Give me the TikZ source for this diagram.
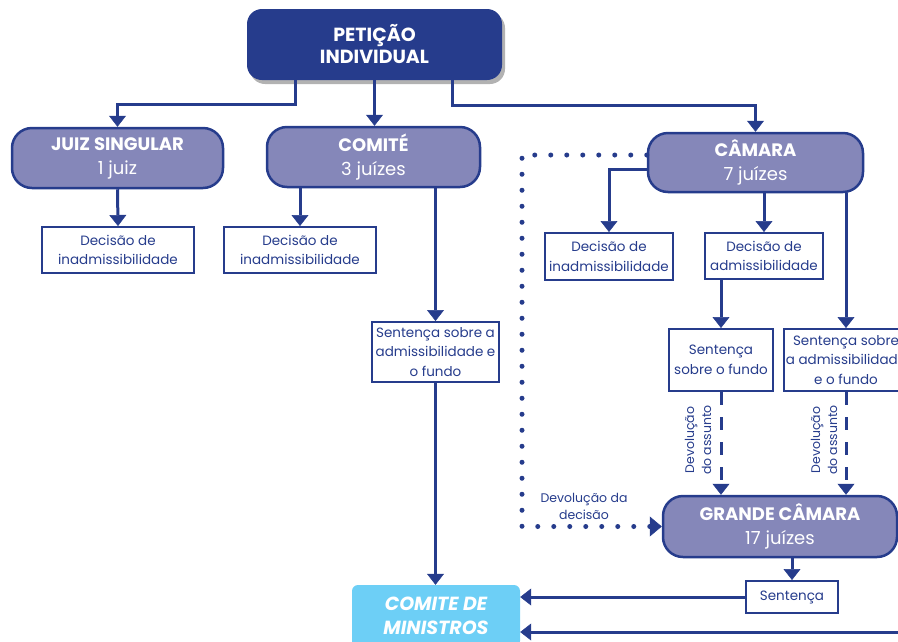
\documentclass[tikz,border=0pt]{standalone}
\usepackage{fontspec}
\setmainfont{Poppins}
\usepackage{xcolor}
\usepackage{tikz}
\usetikzlibrary{
    arrows.meta,
    shadows % For the shadow under the petition box
}
\definecolor{echrblue}{RGB}{38,60,140}
\definecolor{echrlilac}{RGB}{133,135,185}
\definecolor{echrcyan}{RGB}{109,207,246}
\tikzset{
    petbox/.style={%
        rounded corners=15pt, fill=echrblue, text=white, align=center,
        inner sep=0pt, font=\fontsize{19}{22}\selectfont\bfseries,
        drop shadow={shadow xshift=3pt, shadow yshift=-4pt, opacity=0.3, fill=black}
    },
    chamberbox/.style={%
        rounded corners=20pt, draw=echrblue, line width=2.5pt, fill=echrlilac,
        text=white, align=center, inner sep=0pt, font=\fontsize{18}{24}\selectfont
    },
    decbox/.style={%
        draw=echrblue, line width=2pt, fill=white, text=echrblue, align=center,
        inner sep=0pt, font=\fontsize{13.5}{19.5}\selectfont
    },
    ministersbox/.style={%
        rounded corners=6pt, fill=echrcyan, text=white, align=center,
        inner sep=0pt, font=\fontsize{19}{24}\selectfont\bfseries\itshape
    },
    devlabel/.style={%
        text=echrblue, align=center, inner sep=0pt, font=\fontsize{12.5}{17}\selectfont
    },
    arr/.style={%
        draw=echrblue, line width=3pt,
        -{Triangle[width=17pt, length=11pt, line width=0.5pt]}
    },
    dasharr/.style={arr, dash pattern=on 13pt off 12pt},
    dotarr/.style={%
        draw=echrblue, line width=5pt, line cap=round, dash pattern=on 0pt off 16pt,
        -{Triangle[width=20pt, length=12pt, line width=0.5pt]}
    }
}

\begin{document}
\begin{tikzpicture}[x=1pt, y=-1pt]
    \useasboundingbox (0,0) rectangle (898,641);

    % chambers
    \draw (374.5,44.5) node[petbox, minimum width=255pt, minimum height=71pt](pet){PETIÇÃO\\INDIVIDUAL};
    \draw (117.5,158) node[chamberbox, minimum width=211pt, minimum height=60pt](juiz){\textbf{JUIZ SINGULAR}\\1 juiz};
    \draw (373.5,157) node[chamberbox, minimum width=213pt, minimum height=60pt](comite){\textbf{COMITÉ}\\3 juízes};
    \draw (755.5,162.5) node[chamberbox, minimum width=215pt, minimum height=59pt](camara){\textbf{CÂMARA}\\7 juízes};
    \draw (780,526.5) node[chamberbox, minimum width=234pt, minimum height=61pt](grande){\textbf{GRANDE CÂMARA}\\17 juízes};
    \draw (436,616) node[ministersbox, minimum width=168pt, minimum height=62pt](cmin){COMITE DE\\MINISTROS};

    % decisions
    \draw (118,250) node[decbox, minimum width=152pt, minimum height=46pt](dec1){Decisão de\\inadmissibilidade};
    \draw (300,250) node[decbox, minimum width=152pt, minimum height=46pt](dec2){Decisão de\\inadmissibilidade};
    \draw (609,256.5) node[decbox, minimum width=128pt, minimum height=47pt](dec3){Decisão de\\inadmissibilidade};
    \draw (764,256) node[decbox, minimum width=118pt, minimum height=46pt](decadm){Decisão de\\admissibilidade};
    \draw (435.5,352) node[decbox, minimum width=127pt, minimum height=60pt](sentcom){Sentença sobre a\\admissibilidade e\\o fundo};
    \draw (721,360) node[decbox, minimum width=104pt, minimum height=62pt](sentfun){Sentença\\sobre o fundo};
    \draw (846,360) node[decbox, minimum width=124pt, minimum height=62pt](sentadm){Sentença sobre\\a admissibilidade\\e o fundo};
    \draw (792,597) node[decbox, minimum width=92pt, minimum height=32pt](sent){Sentença};

    % labels
    \draw (584,506) node[devlabel](lbldec){Devolução da\\decisão};
    \draw (698,440) node[devlabel, rotate=90](lblfun){Devolução\\do assunto};
    \draw (824,440) node[devlabel, rotate=90](lbladm){Devolução\\do assunto};

    \coordinate (dotturn) at (522,300);
    \coordinate (redge) at (898,632);

    % connectors
    \draw[arr] ([xshift=-79.5pt]pet.south) -- ++(0,24) -| (juiz.north);
    \draw[arr] (pet.south) -- (pet.south |- comite.north);
    \draw[arr] ([xshift=77.5pt]pet.south) -- ++(0,25) -| (camara.north);
    \draw[arr] (juiz.south) -- (dec1.north);
    \draw[arr] (dec2.north |- comite.south) -- (dec2.north);
    \draw[arr] (sentcom.north |- comite.south) -- (sentcom.north);
    \draw[arr] (sentcom.south) -- (sentcom.south |- cmin.north);
    \draw[arr] ([yshift=-6.5pt]camara.west) -| (dec3.north);
    \draw[arr] (decadm.north |- camara.south) -- (decadm.north);
    \draw[arr] (sentadm.north |- camara.south) -- (sentadm.north);
    \draw[arr] (sentfun.north |- decadm.south) -- (sentfun.north);
    \draw[dasharr] (sentfun.south) -- (sentfun.south |- grande.north);
    \draw[dasharr] (sentadm.south) -- (sentadm.south |- grande.north);
    \draw[dotarr] ([yshift=7.5pt]camara.west) -| (dotturn) |- (grande.west);
    \draw[arr] (sent.north |- grande.south) -- (sent.north);
    \draw[arr] (sent.west) -- (sent.west -| cmin.east);
    \draw[arr] (redge) -- (redge -| cmin.east);
\end{tikzpicture}
\end{document}
